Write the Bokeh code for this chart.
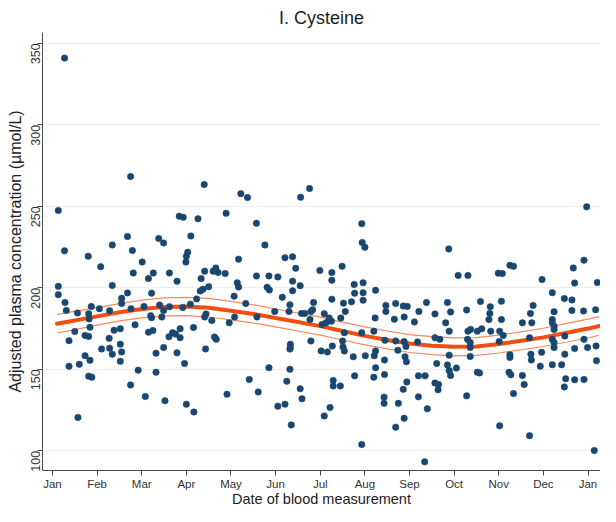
import math
from bokeh.plotting import figure
from bokeh.models import Range1d, FixedTicker, ColumnDataSource, Title
from bokeh.embed import file_html
from bokeh.resources import INLINE

# Month positions (0 = Jan, 12 = next Jan) and labels
tick_pos = [0, 1, 2, 3, 4, 5, 6, 7, 8, 9, 10, 11, 12]
tick_labels = ["Jan", "Feb", "Mar", "Apr", "May", "Jun", "Jul", "Aug", "Sep", "Oct", "Nov", "Dec", "Jan"]
y_ticks = [100, 150, 200, 250, 300, 350]

# Individual measurements: month position and adjusted cysteine concentration
pts_month = [
    0.27,
    1.75, 3.40, 0.13, 2.84, 2.93, 3.26, 3.89, 1.68, 2.38, 2.49, 3.10, 1.34, 0.27, 1.79, 0.80, 3.03, 3.00, 2.99, 2.01,
    1.08, 1.81, 2.26, 2.15, 2.62, 2.79, 3.41, 3.60, 3.66, 3.71, 3.87, 3.33, 3.31, 3.37, 3.50, 3.23, 0.13, 0.13, 0.28,
    0.31, 1.34, 1.68, 1.55, 1.55, 2.22, 0.56, 0.81, 0.87, 1.05, 1.28, 1.76, 2.05, 2.40, 2.49, 2.62, 2.92, 3.09, 3.44,
    0.82, 0.37, 0.50, 0.84, 0.73, 0.81, 0.37, 0.60, 0.73, 0.84, 0.81, 0.88, 0.57, 1.10, 1.27, 1.28, 1.34, 1.38, 1.52,
    1.52, 1.55, 1.52, 1.85, 1.92, 1.75, 2.08, 2.15, 2.25, 2.20, 2.22, 2.32, 2.32, 2.49, 2.45, 2.61, 2.69, 2.76, 2.86,
    2.86, 2.79, 2.96, 2.52, 3.00, 3.17, 3.16, 3.41, 3.57, 3.43, 3.63, 3.67, 3.91, 3.96,
    4.22, 4.37, 5.56, 5.76, 4.57, 6.93, 4.76, 6.94, 7.00, 4.17, 5.21, 5.38, 5.45, 5.99, 6.49, 6.26, 6.26, 4.57, 4.85,
    5.05, 4.14, 4.17, 5.38, 5.38, 5.55, 4.81, 4.86, 4.07, 5.15, 5.32, 4.33, 4.98, 5.85, 5.83, 5.79, 5.65, 5.58, 6.26,
    6.52, 6.70, 6.56, 6.76, 6.77, 6.96, 6.96, 6.96, 7.24, 7.47, 7.47, 7.69, 7.86, 7.95, 6.09,
    4.08, 4.58, 5.30, 5.77, 6.20, 6.25, 6.04, 6.13, 6.46, 5.79, 5.33, 5.33, 5.32, 6.02, 6.16, 6.27, 6.50, 6.51, 6.54,
    6.54, 6.74, 6.93, 7.01, 7.20, 7.21, 7.24, 7.45, 7.44, 7.23, 7.66, 7.88, 7.69, 7.74, 7.88, 7.92, 7.90, 7.93, 4.85,
    5.32, 4.41, 4.61, 5.25, 5.55, 5.59, 5.05, 5.21, 5.35, 6.09, 6.22, 6.29, 6.29, 6.45, 6.77, 6.93, 7.20, 7.24, 7.44,
    7.43, 7.43, 7.75, 7.88, 7.69, 7.94, 7.86,
    11.97, 8.88, 9.09, 9.31, 9.99, 10.08, 10.25, 10.33, 11.91, 11.67, 11.70, 10.97, 12.21, 11.20, 11.47, 11.64, 8.21,
    8.38, 8.57, 8.85, 8.92, 9.28, 9.59, 9.81, 9.80, 10.06, 10.71, 10.77, 11.24, 11.64, 11.90, 12.17,
    8.11, 8.18, 8.81, 8.89, 8.57, 8.68, 8.89, 8.61, 8.85, 8.89, 8.92, 9.05, 8.20, 8.35, 8.57, 8.65, 8.64, 8.20, 8.40,
    8.34, 9.31, 9.37, 9.52, 9.62, 9.82, 9.30, 9.36, 9.36, 9.36, 9.52, 9.57, 9.28, 9.78, 10.02, 10.10, 10.01, 10.06,
    10.25, 10.25, 10.23, 10.27, 10.33, 10.02, 10.53, 10.74, 10.69, 10.72, 10.73, 10.53, 10.57, 10.96, 10.93, 10.69,
    11.20, 11.20, 11.24, 11.24, 11.20, 11.24, 11.24, 11.20, 11.41, 11.48, 11.48, 11.50, 11.47, 11.70, 11.70, 11.91,
    11.91, 11.99, 12.18, 12.19, 12.14,
]
pts_value = [
    341.0,
    268.3, 263.4, 247.5, 244.0, 243.3, 242.4, 245.7, 231.5, 230.3, 227.5, 231.8, 226.3, 222.7, 222.9, 219.4, 221.9, 219.4, 215.8, 215.8,
    213.0, 209.1, 209.1, 205.7, 209.1, 204.1, 210.2, 210.2, 212.2, 209.4, 208.8, 205.7, 198.1, 199.1, 200.7, 193.2, 200.9, 195.8, 191.0,
    186.1, 201.5, 196.9, 193.6, 190.4, 196.7, 184.6, 184.1, 188.6, 187.2, 186.0, 187.2, 188.6, 189.4, 186.1, 188.4, 188.0, 190.0, 184.0,
    180.9, 167.6, 173.2, 175.8, 170.8, 170.2, 151.9, 153.1, 158.3, 155.5, 145.8, 145.2, 120.4, 162.5, 169.0, 163.0, 159.3, 174.0, 174.9,
    165.4, 160.7, 154.9, 177.3, 149.5, 140.4, 133.3, 172.8, 173.8, 182.9, 181.7, 148.2, 159.9, 163.4, 182.1, 170.0, 172.5, 171.6, 169.4,
    174.9, 160.1, 153.5, 130.7, 128.5, 123.8, 175.7, 182.1, 179.9, 162.5, 169.8, 168.4, 134.7, 178.5,
    257.8, 255.4, 255.6, 261.0, 239.6, 239.4, 226.3, 227.9, 224.9, 217.6, 218.5, 219.1, 212.0, 210.6, 213.2, 209.4, 204.7, 207.3, 207.3,
    206.7, 203.1, 200.5, 204.1, 198.2, 201.3, 200.3, 198.7, 194.9, 194.2, 189.6, 190.4, 185.5, 191.0, 186.6, 185.5, 184.3, 184.3, 193.0,
    190.6, 191.4, 185.5, 202.1, 196.7, 203.1, 197.0, 192.4, 198.5, 189.2, 185.5, 190.4, 188.8, 188.6, 184.1,
    182.1, 182.1, 185.5, 180.5, 181.5, 179.5, 177.5, 178.5, 181.5, 167.4, 165.4, 163.4, 162.4, 161.3, 160.7, 164.3, 167.4, 163.7, 161.3,
    172.5, 157.7, 172.5, 158.3, 173.4, 158.3, 161.3, 167.8, 155.7, 181.5, 180.7, 182.1, 167.4, 161.7, 167.0, 164.0, 157.7, 154.7, 151.0,
    150.0, 143.8, 136.1, 142.6, 138.1, 131.9, 127.4, 128.6, 115.9, 121.4, 126.5, 143.2, 139.8, 139.8, 146.0, 103.8, 145.2, 151.0, 146.8,
    132.9, 129.1, 129.1, 120.0, 114.5, 142.2, 137.7,
    249.7, 223.9, 207.6, 207.6, 209.0, 208.8, 213.8, 213.2, 217.0, 212.2, 202.9, 205.1, 203.3, 197.0, 193.4, 192.6, 185.5,
    191.0, 184.0, 191.0, 185.2, 186.4, 191.6, 188.4, 184.3, 191.8, 184.3, 189.2, 185.4, 186.1, 185.8, 186.6,
    179.1, 166.8, 178.5, 173.4, 169.4, 168.4, 158.7, 153.5, 152.7, 149.2, 146.2, 150.8, 146.0, 146.0, 141.6, 140.7, 137.5, 133.1, 125.8,
    93.2, 173.4, 174.5, 173.4, 174.9, 173.4, 168.4, 166.4, 163.4, 157.9, 148.2, 147.8, 133.7, 180.5, 173.4, 170.8, 167.0, 180.5,
    158.9, 157.3, 148.2, 146.6, 135.1, 115.3, 178.5, 178.5, 169.4, 159.3, 155.7, 146.2, 140.7, 160.4, 151.9, 109.3,
    180.5, 178.5, 176.5, 174.5, 168.4, 166.4, 163.4, 152.8, 152.8, 170.4, 159.3, 144.2, 139.2, 162.8, 143.6, 143.8,
    168.4, 163.4, 164.3, 155.3, 100.2,
]

# Fitted seasonal curve and its confidence limits
fit_month = [0.1, 0.5, 1.0, 1.5, 2.0, 2.5, 3.0, 3.5, 4.0, 4.5, 5.0, 5.5, 6.0, 6.5, 7.0, 7.5, 8.0, 8.5, 9.0, 9.5, 10.0,
             10.5, 11.0, 11.5, 12.0, 12.25]
fit_value = [178.0, 180.0, 182.5, 185.0, 187.0, 188.3, 188.6, 187.8, 186.0, 184.0, 181.5, 179.0, 176.5, 173.5, 170.5,
             168.0, 165.8, 164.5, 163.8, 164.0, 165.5, 167.5, 169.6, 172.3, 175.0, 176.6]
fit_upper = [183.7, 185.6, 187.9, 190.3, 192.4, 193.8, 194.2, 193.5, 191.7, 189.6, 187.0, 184.5, 182.0, 179.0, 176.0,
             173.5, 171.3, 170.0, 169.3, 169.5, 171.0, 173.0, 175.2, 178.0, 180.8, 182.3]
fit_lower = [172.3, 174.4, 177.1, 179.7, 181.6, 182.8, 183.0, 182.1, 180.3, 178.4, 176.0, 173.5, 171.0, 168.0, 165.0,
             162.5, 160.3, 159.0, 158.3, 158.5, 160.0, 162.0, 164.0, 166.6, 169.2, 170.9]

x_title = "Date of blood measurement"
y_title = "Adjusted plasma concentration (µmol/L)"

NAVY = "#1a476f"
FIT = "#f24e12"
BAND = "#f3895f"
FONT = "Liberation Sans"

p = figure(width=600, height=506, output_backend="svg", toolbar_location=None,
           x_range=Range1d(-0.224, 12.28), y_range=Range1d(87.9, 356.7),
           min_border_left=42, min_border_right=0, min_border_top=26, min_border_bottom=36,
           title="I. Cysteine")
p.outline_line_color = None
p.background_fill_color = "white"
p.border_fill_color = "white"

p.title.align = "center"
p.title.text_font = FONT
p.title.text_font_size = "18px"
p.title.text_font_style = "normal"
p.title.text_color = "#1e1e1e"

src = ColumnDataSource(dict(m=pts_month, v=pts_value))
fit = ColumnDataSource(dict(m=fit_month, v=fit_value, hi=fit_upper, lo=fit_lower))

p.line("m", "hi", source=fit, line_color=BAND, line_width=1.2)
p.line("m", "lo", source=fit, line_color=BAND, line_width=1.2)
p.line("m", "v", source=fit, line_color=FIT, line_width=4, line_join="round", line_cap="round")
p.scatter("m", "v", source=src, size=6.5, fill_color=NAVY, line_color=NAVY, line_width=0.5)

p.xgrid.grid_line_color = None
p.ygrid.grid_line_color = "#eceff1"
p.ygrid.grid_line_width = 1.2

p.xaxis.ticker = FixedTicker(ticks=tick_pos)
p.xaxis.major_label_overrides = {t: l for t, l in zip(tick_pos, tick_labels)}
p.yaxis.ticker = FixedTicker(ticks=y_ticks)
p.ygrid.ticker = FixedTicker(ticks=y_ticks)
p.yaxis.major_label_orientation = math.pi / 2

p.yaxis.axis_label = y_title

for ax in (p.xaxis, p.yaxis):
    ax.axis_line_color = "#4a4a4a"
    ax.major_tick_line_color = "#4a4a4a"
    ax.minor_tick_line_color = None
    ax.major_tick_out = 5
    ax.major_tick_in = 0
    ax.major_label_text_font = FONT
    ax.major_label_text_color = "#333333"
    ax.major_label_standoff = 2
    ax.axis_label_text_font = FONT
    ax.axis_label_text_font_style = "normal"
    ax.axis_label_text_color = "#222222"
    ax.axis_label_standoff = 0

p.xaxis.major_label_standoff = 2
p.xaxis.major_label_text_font_size = "11.5px"
p.yaxis.major_label_text_font_size = "12.5px"
p.yaxis.axis_label_text_font_size = "16px"

# x-axis title in its own panel under the axis
p.add_layout(Title(text=x_title, align="center", text_font=FONT,
                   text_font_size="14.5px", text_font_style="normal", text_color="#222222",
                   standoff=-8, offset=4), "below")

open("out.html", "w").write(file_html(p, INLINE))
